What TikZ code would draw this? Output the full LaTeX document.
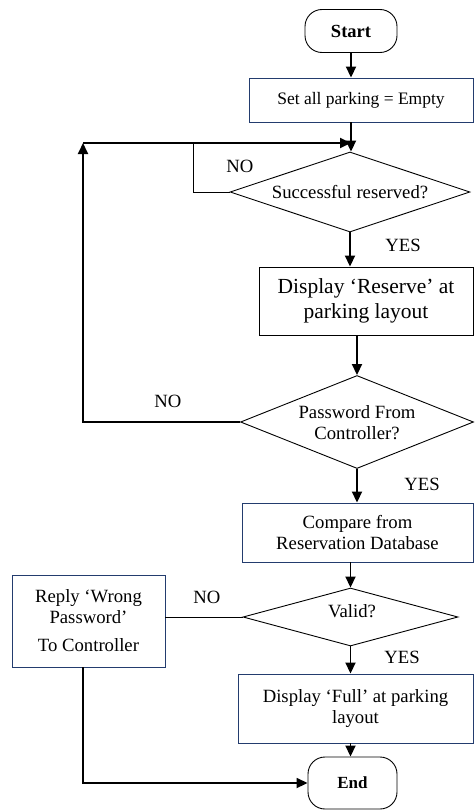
\documentclass[tikz,border=0pt]{standalone}
\usepackage{fontspec}
\setmainfont{Liberation Serif}
\usetikzlibrary{shapes.geometric,arrows.meta,calc}
\definecolor{navy}{RGB}{35,60,110}
\tikzset{
  txt/.style={font=\fontsize{18.7}{21}\selectfont, align=center},
  procbox/.style={draw=navy, line width=0.9pt, rectangle, inner sep=0pt, txt},
  blkbox/.style={draw=black, line width=0.9pt, rectangle, inner sep=0pt, txt},
  decide/.style={draw=black, line width=0.9pt, diamond, inner sep=0pt},
  term/.style={draw=black, line width=0.9pt, rectangle, rounded corners=17pt, inner sep=0pt,
    font=\fontsize{18.5}{21}\selectfont\bfseries},
  arr/.style={line width=1.8pt, -{Triangle[length=11pt,width=10pt]}},
  thin/.style={line width=0.9pt},
  lbl/.style={font=\fontsize{18.7}{21}\selectfont, inner sep=0pt}
}
\begin{document}
\begin{tikzpicture}[x=1pt,y=-1pt]
\useasboundingbox (0,0) rectangle (474,811);
% nodes
\node[term, minimum width=92pt, minimum height=43pt] (start) at (351,31) {Start};
\node[procbox, minimum width=224pt, minimum height=44pt,
      font=\fontsize{17.5}{20}\selectfont] (set) at (361,100) {Set all parking = Empty};
\node[decide, minimum width=240pt, minimum height=80pt] (d1) at (350,192) {};
\node[txt] (d1t) at (350,192) {Successful reserved?};
\node[blkbox, minimum width=214pt, minimum height=68pt,
      font=\fontsize{21.5}{25}\selectfont] (res) at (366,301) {Display ‘Reserve’ at\\parking layout};
\node[decide, minimum width=233pt, minimum height=93pt] (d2) at (357,422) {};
\node[txt] (d2t) at (357,423) {Password From\\Controller?};
\node[procbox, minimum width=231pt, minimum height=59pt] (cmp) at (357.5,532.5) {Compare from\\Reservation Database};
\node[decide, minimum width=215pt, minimum height=58pt] (d3) at (350.5,617) {};
\node[txt] (d3t) at (352,611) {Valid?};
\node[procbox, minimum width=153pt, minimum height=92pt] (wrong) at (88.5,621)
  {\lineskiplimit=-20pt\baselineskip=15pt Reply ‘Wrong\\Password’\\[7pt]To Controller};
\node[procbox, minimum width=235pt, minimum height=69pt] (full) at (355.5,708.5) {Display ‘Full’ at parking\\layout};
\node[term, minimum width=89pt, minimum height=52pt, font=\fontsize{17}{20}\selectfont\bfseries] (end) at (352.5,783) {End};
% labels
\node[lbl] (no1) at (240,166) {NO};
\node[lbl] (yes1) at (403,245) {YES};
\node[lbl] (no2) at (168,401) {NO};
\node[lbl] (yes2) at (422,484) {YES};
\node[lbl] (no3) at (207,597) {NO};
\node[lbl] (yes3) at (402,657) {YES};
% coordinates
\coordinate (c1) at (83,143);
\coordinate (c3) at (193,143);
\coordinate (c4) at (83,783);
\coordinate (m1) at (351,143);
% connectors
\draw[arr] (start.south) -- (start.south |- set.north);
\draw[arr] (start.south |- set.south) -- (start.south |- d1.north);
\draw[arr] (d1.south) -- (d1.south |- res.north);
\draw[arr] (d2.north |- res.south) -- (d2.north);
\draw[arr] (d2.south) -- (d2.south |- cmp.north);
\draw[arr] (d3.north |- cmp.south) -- (d3.north);
\draw[arr] (d3.south) -- (d3.south |- full.north);
\draw[arr] (d3.south |- full.south) -- (d3.south |- end.north);
% loops
\draw[thin] (d1.west) -- (d1.west -| c3) -- (c3);
\draw[arr] (d2.west) -- (d2.west -| c1) -- (c1);
\draw[arr] (c1) -- (m1);
% invalid branch
\draw[thin] (d3.west) -- (d3.west -| wrong.east);
\draw[arr] (wrong.south -| c4) -- (c4) -- (end.west);
\end{tikzpicture}
\end{document}
